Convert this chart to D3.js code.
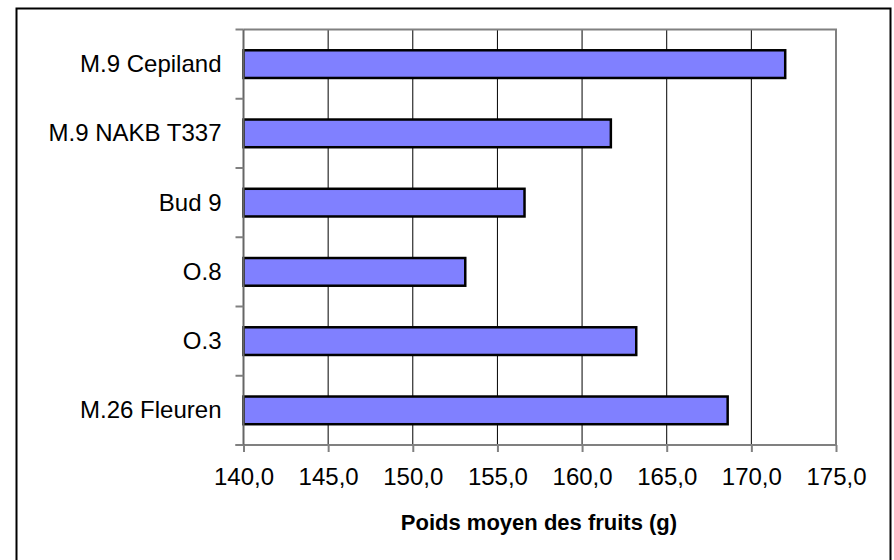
<!DOCTYPE html>
<html>
<head>
<meta charset="utf-8">
<script src="https://cdn.jsdelivr.net/npm/d3@7"></script>
<style>
  body { margin: 0; background: #fff; }
  svg { display: block; font-family: Arial, "Liberation Sans", sans-serif; }
</style>
</head>
<body>
<figure id="bars" style="margin:0"></figure>
<script>
// categories top to bottom, as shown on the chart
const categories = ['M.9 Cepiland', 'M.9 NAKB T337', 'Bud 9', 'O.8', 'O.3', 'M.26 Fleuren'];
const poidsMoyen = [172.0, 161.7, 156.6, 153.1, 163.2, 168.6];
const xTicks = [140, 145, 150, 155, 160, 165, 170, 175];
const xTitle = 'Poids moyen des fruits (g)';

const width = 894;
const height = 560;
const plot = {left: 243.5, right: 836, top: 29.5, bottom: 445};

const svg = d3.select('figure#bars')
  .append('svg')
  .attr('width', width)
  .attr('height', height);

// outer chart border (bottom edge falls outside the picture)
svg.append('rect')
  .attr('x', 16.5).attr('y', 8.5)
  .attr('width', 874).attr('height', 570)
  .attr('fill', '#fff')
  .attr('stroke', '#000')
  .attr('stroke-width', 2);

const x = d3.scaleLinear()
  .domain([140, 175])
  .range([plot.left, plot.right]);

const y = d3.scaleBand()
  .domain(categories)
  .range([plot.top, plot.bottom])
  .paddingInner(0.6)
  .paddingOuter(0.3);

// vertical gridlines
svg.append('g')
  .selectAll('line')
  .data(xTicks.slice(1, -1))
  .enter()
  .append('line')
  .attr('x1', d => x(d)).attr('x2', d => x(d))
  .attr('y1', plot.top).attr('y2', plot.bottom)
  .attr('stroke', '#000')
  .attr('stroke-width', 1);

// plot frame (top and right)
svg.append('path')
  .attr('d', `M${plot.left},${plot.top}H${plot.right}V${plot.bottom}`)
  .attr('fill', 'none')
  .attr('stroke', '#808080')
  .attr('stroke-width', 2);

// bars
svg.append('g')
  .selectAll('rect')
  .data(categories)
  .enter()
  .append('rect')
  .attr('x', x(140))
  .attr('y', d => y(d))
  .attr('width', (d, i) => x(poidsMoyen[i]) - x(140))
  .attr('height', y.bandwidth())
  .attr('fill', '#8080ff')
  .attr('stroke', '#000')
  .attr('stroke-width', 2.5);

// x axis
const xAxis = svg.append('g')
  .attr('transform', `translate(0,${plot.bottom})`)
  .call(d3.axisBottom(x)
    .tickValues(xTicks)
    .tickSize(7)
    .tickPadding(16)
    .tickFormat(d => d3.format('.1f')(d).replace('.', ',')));

xAxis.select('.domain')
  .attr('stroke', '#808080')
  .attr('stroke-width', 2)
  .attr('d', `M${plot.left - 8},0H${plot.right}`);
xAxis.selectAll('.tick line').attr('stroke', '#808080').attr('stroke-width', 2);
xAxis.selectAll('.tick text')
  .attr('fill', '#000')
  .style('font-size', '24px')
  .style('font-family', 'Arial, "Liberation Sans", sans-serif');

// y axis: ticks sit on band boundaries
const yAxis = svg.append('g')
  .attr('transform', `translate(${plot.left},0)`);

yAxis.append('line')
  .attr('x1', 0).attr('x2', 0)
  .attr('y1', plot.top).attr('y2', plot.bottom)
  .attr('stroke', '#666')
  .attr('stroke-width', 2);

const step = y.step();
yAxis.selectAll('.ytick')
  .data(d3.range(categories.length + 1))
  .enter()
  .append('line')
  .attr('class', 'ytick')
  .attr('x1', -8).attr('x2', 0)
  .attr('y1', i => plot.top + i * step)
  .attr('y2', i => plot.top + i * step)
  .attr('stroke', '#808080')
  .attr('stroke-width', 2);

yAxis.selectAll('.ylabel')
  .data(categories)
  .enter()
  .append('text')
  .attr('class', 'ylabel')
  .attr('x', -22)
  .attr('y', d => y(d) + y.bandwidth() / 2 + 8)
  .attr('text-anchor', 'end')
  .style('font-size', '24px')
  .text(d => d);

// axis title
svg.append('text')
  .attr('x', 539)
  .attr('y', 530)
  .attr('text-anchor', 'middle')
  .style('font-size', '22px')
  .style('font-weight', 'bold')
  .text(xTitle);
</script>
</body>
</html>
